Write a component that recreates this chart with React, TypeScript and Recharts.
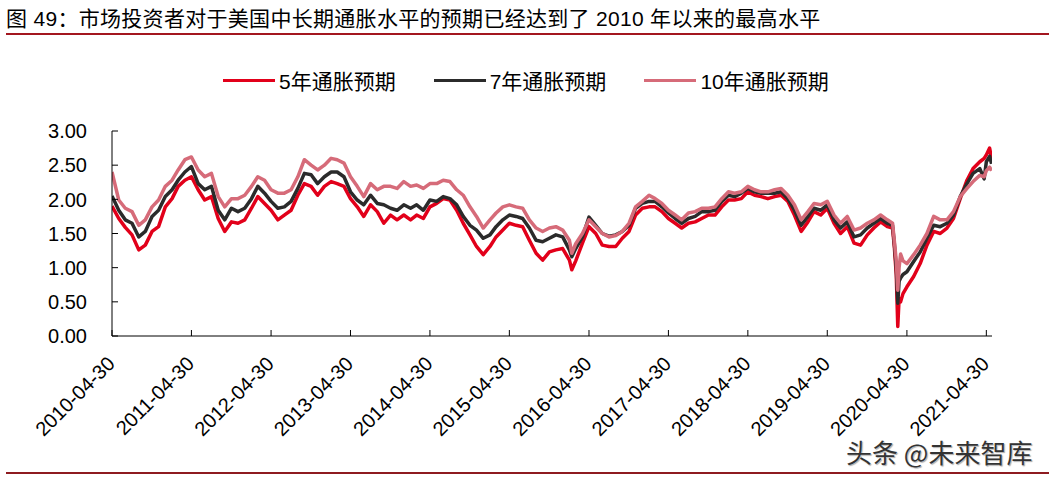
import React from 'react';
import { LineChart, Line, XAxis, YAxis } from 'recharts';

const dates = [
  '2010-04-30','2010-05-31','2010-06-30','2010-07-31','2010-08-31','2010-09-30','2010-10-31','2010-11-30','2010-12-31',
  '2011-01-31','2011-02-28','2011-03-31','2011-04-30','2011-05-31','2011-06-30','2011-07-31','2011-08-31','2011-09-30','2011-10-31','2011-11-30','2011-12-31',
  '2012-01-31','2012-02-29','2012-03-31','2012-04-30','2012-05-31','2012-06-30','2012-07-31','2012-08-31','2012-09-30','2012-10-31','2012-11-30','2012-12-31',
  '2013-01-31','2013-02-28','2013-03-31','2013-04-30','2013-05-31','2013-06-30','2013-07-31','2013-08-31','2013-09-30','2013-10-31','2013-11-30','2013-12-31',
  '2014-01-31','2014-02-28','2014-03-31','2014-04-30','2014-05-31','2014-06-30','2014-07-31','2014-08-31','2014-09-30','2014-10-31','2014-11-30','2014-12-31',
  '2015-01-31','2015-02-28','2015-03-31','2015-04-30','2015-05-31','2015-06-30','2015-07-31','2015-08-31','2015-09-30','2015-10-31','2015-11-30','2015-12-31',
  '2016-01-31','2016-02-11','2016-02-29','2016-03-31','2016-04-30','2016-05-31','2016-06-30','2016-07-31','2016-08-31','2016-09-30','2016-10-31','2016-11-30','2016-12-31',
  '2017-01-31','2017-02-28','2017-03-31','2017-04-30','2017-05-31','2017-06-30','2017-07-31','2017-08-31','2017-09-30','2017-10-31','2017-11-30','2017-12-31',
  '2018-01-31','2018-02-28','2018-03-31','2018-04-30','2018-05-31','2018-06-30','2018-07-31','2018-08-31','2018-09-30','2018-10-31','2018-11-30','2018-12-31',
  '2019-01-31','2019-02-28','2019-03-31','2019-04-30','2019-05-31','2019-06-30','2019-07-31','2019-08-31','2019-09-30','2019-10-31','2019-11-30','2019-12-31',
  '2020-01-31','2020-02-24','2020-03-03','2020-03-12','2020-03-19','2020-03-25','2020-04-01','2020-04-12','2020-04-30','2020-05-31','2020-06-30','2020-07-31','2020-08-31','2020-09-30','2020-10-31','2020-11-30','2020-12-31',
  '2021-01-31','2021-02-28','2021-03-31','2021-04-20','2021-04-30','2021-05-15','2021-05-24',
];

const fiveYear = [
  1.90,1.72,1.59,1.48,1.26,1.33,1.53,1.60,1.89,
  2.01,2.19,2.28,2.33,2.14,1.99,2.04,1.72,1.53,1.67,1.65,1.70,
  1.87,2.04,1.94,1.84,1.70,1.77,1.84,2.06,2.23,2.19,2.06,2.19,
  2.26,2.23,2.19,2.01,1.89,1.75,1.92,1.82,1.65,1.77,1.70,1.77,
  1.70,1.77,1.72,1.89,1.94,2.01,1.99,1.84,1.65,1.48,1.31,1.19,
  1.31,1.45,1.55,1.65,1.62,1.60,1.40,1.21,1.11,1.23,1.26,1.28,
  1.11,0.97,1.10,1.36,1.60,1.50,1.33,1.31,1.31,1.43,1.53,1.77,1.87,
  1.89,1.89,1.82,1.72,1.65,1.58,1.65,1.67,1.72,1.77,1.77,1.89,
  1.99,1.99,2.01,2.11,2.06,2.04,2.01,2.04,2.06,1.97,1.77,1.53,
  1.67,1.82,1.77,1.87,1.65,1.50,1.60,1.36,1.33,1.48,1.58,1.67,
  1.60,1.58,1.31,0.90,0.14,0.55,0.50,0.62,0.72,0.87,1.06,1.33,1.53,1.50,1.58,1.72,2.01,
  2.28,2.45,2.55,2.60,2.65,2.75,2.60,
];

const sevenYear = [
  2.05,1.84,1.70,1.65,1.45,1.53,1.75,1.84,2.04,
  2.14,2.28,2.40,2.48,2.23,2.14,2.19,1.84,1.70,1.87,1.82,1.87,
  2.01,2.19,2.09,1.97,1.87,1.89,1.97,2.16,2.38,2.36,2.23,2.33,
  2.40,2.40,2.33,2.11,1.99,1.92,2.06,1.94,1.92,1.87,1.84,1.92,
  1.87,1.92,1.84,1.99,1.97,2.04,2.01,1.92,1.75,1.62,1.55,1.43,
  1.48,1.60,1.70,1.77,1.75,1.72,1.58,1.40,1.38,1.43,1.48,1.45,
  1.26,1.16,1.28,1.45,1.74,1.62,1.50,1.46,1.48,1.53,1.62,1.87,1.94,
  1.97,1.97,1.89,1.80,1.72,1.65,1.72,1.75,1.82,1.82,1.84,1.97,
  2.06,2.04,2.09,2.16,2.11,2.09,2.09,2.09,2.11,2.01,1.84,1.62,
  1.75,1.87,1.84,1.92,1.70,1.58,1.67,1.45,1.48,1.58,1.65,1.72,
  1.65,1.62,1.36,1.00,0.48,0.80,0.85,0.90,0.94,1.09,1.23,1.43,1.62,1.60,1.65,1.77,2.04,
  2.23,2.38,2.45,2.30,2.55,2.63,2.52,
];

const tenYear = [
  2.40,1.99,1.87,1.82,1.62,1.70,1.89,1.99,2.19,
  2.28,2.43,2.58,2.62,2.43,2.33,2.38,2.04,1.89,2.01,2.01,2.06,
  2.19,2.33,2.28,2.14,2.09,2.09,2.14,2.33,2.58,2.50,2.43,2.50,
  2.60,2.58,2.53,2.33,2.19,2.04,2.23,2.14,2.19,2.19,2.16,2.26,
  2.19,2.21,2.16,2.23,2.23,2.28,2.26,2.14,2.06,1.89,1.75,1.58,
  1.70,1.80,1.89,1.92,1.89,1.87,1.70,1.58,1.53,1.58,1.60,1.55,
  1.40,1.21,1.35,1.50,1.70,1.60,1.50,1.45,1.47,1.53,1.65,1.89,1.97,
  2.06,2.01,1.94,1.84,1.77,1.70,1.80,1.82,1.87,1.87,1.89,2.01,
  2.11,2.09,2.11,2.19,2.14,2.11,2.11,2.14,2.16,2.06,1.92,1.70,
  1.82,1.94,1.92,1.97,1.77,1.65,1.75,1.55,1.58,1.65,1.70,1.77,
  1.70,1.65,1.40,1.10,0.67,1.00,1.20,1.10,1.06,1.19,1.33,1.50,1.75,1.70,1.70,1.82,2.04,
  2.16,2.26,2.35,2.33,2.42,2.47,2.42,
];

const xTickLabels = [
  '2010-04-30','2011-04-30','2012-04-30','2013-04-30','2014-04-30','2015-04-30',
  '2016-04-30','2017-04-30','2018-04-30','2019-04-30','2020-04-30','2021-04-30',
];
const yTicks = [0, 0.5, 1, 1.5, 2, 2.5, 3];
const seriesNames = ['5年通胀预期', '7年通胀预期', '10年通胀预期'];
const seriesKeys = ['five', 'seven', 'ten'];
const seriesColors = ['#E2001A', '#2B2B2B', '#D66B79'];

const titleText = '图 49：市场投资者对于美国中长期通胀水平的预期已经达到了 2010 年以来的最高水平';
const watermark = '头条 @未来智库';

const data = dates.map((d, i) => ({
  t: Date.parse(d),
  five: fiveYear[i],
  seven: sevenYear[i],
  ten: tenYear[i],
}));

const xTicks = xTickLabels.map((s) => Date.parse(s));
const xDomain = [Date.parse('2010-04-30'), Date.parse('2021-05-26')];

const FONT = '"Liberation Sans", Arial, "Noto Sans CJK SC", sans-serif';

const XTick = (props: any) => {
  const { x, y, index } = props;
  const lx = x + 4;
  const ly = y + 29;
  return (
    <g>
      <line x1={x} x2={x} y1={y} y2={y - 6} stroke="#000" strokeWidth={1} />
      <text
        x={lx}
        y={ly}
        transform={`rotate(-45, ${lx}, ${ly})`}
        textAnchor="end"
        fontSize={20}
        fontFamily={FONT}
        fill="#000"
      >
        {xTickLabels[index]}
      </text>
    </g>
  );
};

const YTick = (props: any) => {
  const { x, y, payload } = props;
  return (
    <g>
      <line x1={x} x2={x + 6} y1={y} y2={y} stroke="#000" strokeWidth={1} />
      <text
        x={x - 25}
        y={y}
        dy="0.36em"
        textAnchor="end"
        fontSize={20}
        fontFamily={FONT}
        fill="#000"
      >
        {Number(payload.value).toFixed(2)}
      </text>
    </g>
  );
};

export default function App() {
  return (
    <div
      style={{
        position: 'absolute',
        left: 0,
        top: 0,
        width: 1055,
        height: 478,
        background: '#fff',
        overflow: 'hidden',
        fontFamily: FONT,
      }}
    >
      <div
        style={{
          position: 'absolute',
          left: 6,
          top: 7,
          fontSize: 21,
          lineHeight: '24px',
          color: '#000',
          whiteSpace: 'nowrap',
          letterSpacing: '0.3px',
        }}
      >
        {titleText}
      </div>
      <div style={{ position: 'absolute', left: 6, top: 33, width: 1043, height: 2, background: '#A3161F' }} />

      <div
        style={{
          position: 'absolute',
          left: 223,
          top: 67,
          display: 'flex',
          alignItems: 'center',
          height: 26,
          fontSize: 21,
          color: '#000',
          whiteSpace: 'nowrap',
        }}
      >
        {seriesNames.map((n, i) => (
          <div key={n} style={{ display: 'flex', alignItems: 'center', marginRight: 38 }}>
            <div style={{ width: 52, height: 3, background: seriesColors[i], marginRight: 4 }} />
            <span>{n}</span>
          </div>
        ))}
      </div>

      <div style={{ position: 'absolute', left: 0, top: 0 }}>
        <LineChart
          width={1055}
          height={478}
          data={data}
          margin={{ top: 131, right: 63, bottom: 42, left: 52 }}
        >
          <XAxis
            dataKey="t"
            type="number"
            scale="time"
            domain={xDomain}
            ticks={xTicks}
            interval={0}
            height={100}
            tickLine={false}
            tickSize={0}
            tickMargin={0}
            axisLine={{ stroke: '#000', strokeWidth: 1 }}
            tick={<XTick />}
            allowDataOverflow
          />
          <YAxis
            type="number"
            domain={[0, 3]}
            ticks={yTicks}
            interval={0}
            width={60}
            tickLine={false}
            tickSize={0}
            tickMargin={0}
            axisLine={{ stroke: '#000', strokeWidth: 1 }}
            tick={<YTick />}
          />
          {seriesKeys.map((k, i) => (
            <Line
              key={k}
              dataKey={k}
              name={seriesNames[i]}
              type="linear"
              stroke={seriesColors[i]}
              strokeWidth={3.5}
              strokeLinejoin="round"
              dot={false}
              isAnimationActive={false}
            />
          ))}
        </LineChart>
      </div>

      <div
        style={{
          position: 'absolute',
          left: 846,
          top: 437,
          fontSize: 26,
          lineHeight: '30px',
          color: '#333',
          fontFamily: '"Noto Sans CJK SC", sans-serif',
          textShadow: '0 0 2px #fff, 1px 1px 1px #999',
          whiteSpace: 'nowrap',
        }}
      >
        {watermark}
      </div>
      <div style={{ position: 'absolute', left: 6, top: 472, width: 1043, height: 2, background: '#8E1B20' }} />
    </div>
  );
}
